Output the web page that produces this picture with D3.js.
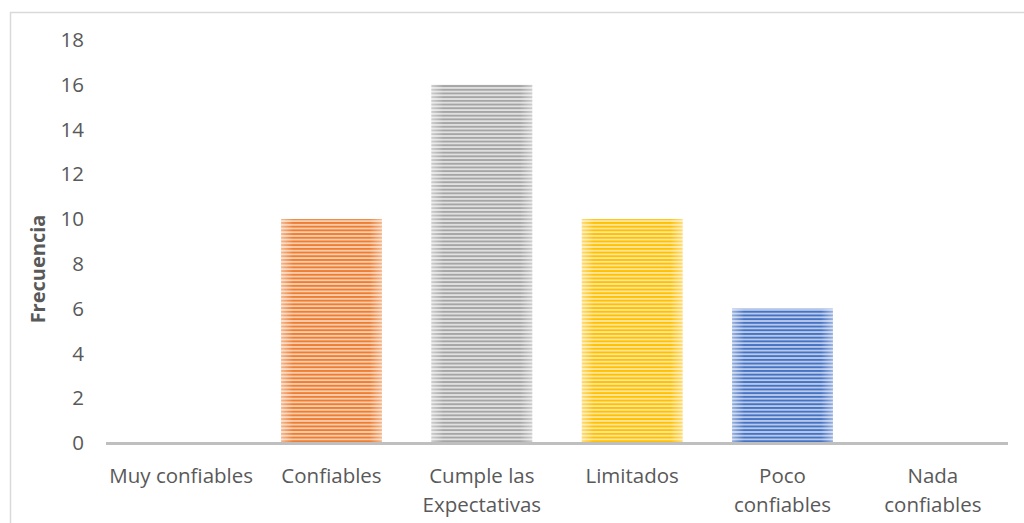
<!DOCTYPE html>
<html><head><meta charset="utf-8">
<script src="https://cdn.jsdelivr.net/npm/d3@7"></script>
<style>body{margin:0;background:#fff}svg{display:block}</style>
</head><body><svg id="c" width="1024" height="523"></svg>
<script>
const categories = ["Muy confiables","Confiables","Cumple las Expectativas","Limitados","Poco confiables","Nada confiables"];
const labelLines = [["Muy confiables"],["Confiables"],["Cumple las","Expectativas"],["Limitados"],["Poco","confiables"],["Nada","confiables"]];
const values = [0,10,16,10,6,0];
const yTicks = [0,2,4,6,8,10,12,14,16,18];
const colors = ["#5b9bd5","#ed7d31","#a5a5a5","#ffc000","#4472c4","#70ad47"];
const lightColors = ["#c5dcf0","#f9cfb1","#e2e2e2","#ffe6a0","#bccbe9","#c7e2b5"];

const svg = d3.select("#c");
const font = "'Open Sans', sans-serif";
svg.append("rect").attr("x",10.5).attr("y",12.5).attr("width",1030).attr("height",530)
  .attr("fill","#fff").attr("stroke","#d9d9d9").attr("stroke-width",1.5);

const x = d3.scaleBand().domain(categories).range([106,1008]).paddingInner(0.33).paddingOuter(0.165);
const y = d3.scaleLinear().domain([0,18]).range([443,40]);

const defs = svg.append("defs");
categories.forEach((c,i)=>{
  const p = defs.append("pattern").attr("id","p"+i).attr("patternUnits","userSpaceOnUse")
    .attr("width",8).attr("height",3.7);
  p.append("rect").attr("width",8).attr("height",3.7).attr("fill",lightColors[i]);
  p.append("rect").attr("width",8).attr("height",1.9).attr("fill",colors[i]);
});
const g = defs.append("linearGradient").attr("id","shade").attr("x1","0").attr("x2","1");
g.append("stop").attr("offset","0").attr("stop-color","#fff").attr("stop-opacity",0.45);
g.append("stop").attr("offset","0.12").attr("stop-color","#fff").attr("stop-opacity",0);
g.append("stop").attr("offset","0.88").attr("stop-color","#fff").attr("stop-opacity",0);
g.append("stop").attr("offset","1").attr("stop-color","#fff").attr("stop-opacity",0.45);

const bars = svg.append("g");
values.forEach((v,i)=>{
  if(v<=0) return;
  const c = categories[i];
  bars.append("rect").attr("x",x(c)).attr("y",y(v)).attr("width",x.bandwidth()).attr("height",y(0)-y(v))
    .attr("fill","url(#p"+i+")");
  bars.append("rect").attr("x",x(c)).attr("y",y(v)).attr("width",x.bandwidth()).attr("height",y(0)-y(v))
    .attr("fill","url(#shade)");
});

// y axis
const ya = svg.append("g").attr("transform","translate(84,0)")
  .call(d3.axisLeft(y).tickValues(yTicks).tickSize(0).tickPadding(0));
ya.select(".domain").remove();
ya.selectAll("text").attr("font-family",font).attr("font-size",20.5).attr("fill","#595959").attr("text-anchor","end");

// x axis line
svg.append("line").attr("x1",106).attr("x2",1008).attr("y1",y(0)+0.5).attr("y2",y(0)+0.5)
  .attr("stroke","#bfbfbf").attr("stroke-width",3);

// x labels
const xa = svg.append("g").attr("transform","translate(0,"+(y(0))+")")
  .call(d3.axisBottom(x).tickSize(0).tickFormat(""));
xa.select(".domain").remove();
xa.selectAll(".tick").each(function(d,i){
  const t = d3.select(this).append("text").attr("font-family",font).attr("font-size",20.5)
    .attr("fill","#595959").attr("text-anchor","middle");
  labelLines[i].forEach((l,j)=>{
    t.append("tspan").attr("x",0).attr("y",40+j*29).text(l);
  });
});

svg.append("text").attr("transform","translate(45,269) rotate(-90)").attr("text-anchor","middle")
  .attr("font-family",font).attr("font-size",20).attr("font-weight","bold").attr("fill","#595959").text("Frecuencia");
</script></body></html>
